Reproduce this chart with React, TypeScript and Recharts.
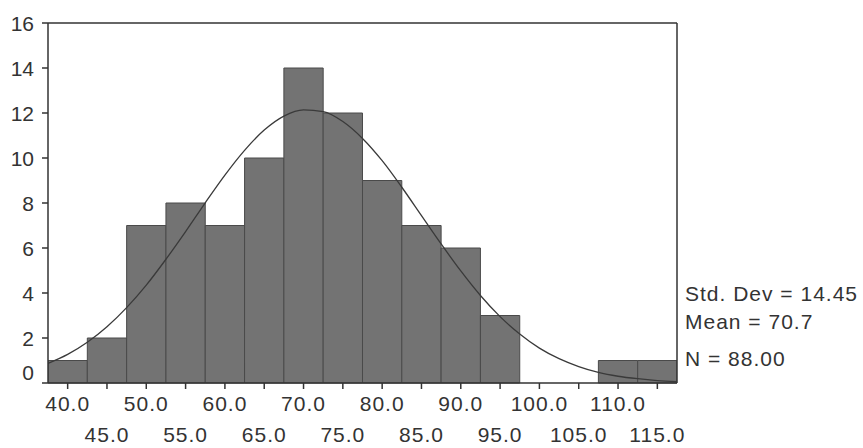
import { ComposedChart, Bar, Line, XAxis, YAxis, ReferenceLine } from "recharts"

// histogram bins (centre of each 5-unit class) and their counts
const binCenters = [40, 45, 50, 55, 60, 65, 70, 75, 80, 85, 90, 95, 100, 105, 110, 115]
const binCounts = [1, 2, 7, 8, 7, 10, 14, 12, 9, 7, 6, 3, 0, 0, 1, 1]

// fitted normal curve, every 2.5 units
const curveX = [
  37.5, 40, 42.5, 45, 47.5, 50, 52.5, 55, 57.5, 60, 62.5, 65, 67.5, 70, 72.5, 75, 77.5,
  80, 82.5, 85, 87.5, 90, 92.5, 95, 97.5, 100, 102.5, 105, 107.5, 110, 112.5, 115, 117.5,
]
const curveY = [
  0.87, 1.27, 1.81, 2.5, 3.35, 4.35, 5.5, 6.73, 8.01, 9.24, 10.34, 11.24, 11.86, 12.14, 12.06, 11.62, 10.87,
  9.88, 8.7, 7.44, 6.18, 4.98, 3.89, 2.95, 2.18, 1.55, 1.08, 0.73, 0.47, 0.3, 0.19, 0.11, 0.06,
]

const xTicks = [40, 45, 50, 55, 60, 65, 70, 75, 80, 85, 90, 95, 100, 105, 110, 115]
const yTicks = [0, 2, 4, 6, 8, 10, 12, 14, 16]
const statLines = ["Std. Dev = 14.45", "Mean = 70.7", "N = 88.00"]

const bins = binCenters.map((x, i) => ({ x, count: binCounts[i] }))
const curve = curveX.map((x, i) => ({ x, fit: curveY[i] }))

const font = "'Liberation Sans', Arial, sans-serif"
const ink = "#333"

// two staggered rows of labels, like the SPSS output
// eslint-disable-next-line @typescript-eslint/no-explicit-any
function XTick({ x, y, payload, index }: any) {
  const lower = index % 2 === 1
  return (
    <text x={x} y={y} dy={lower ? 51 : 20} textAnchor="middle" fontSize={21} letterSpacing={1} fill={ink} fontFamily={font}>
      {Number(payload.value).toFixed(1)}
    </text>
  )
}

// eslint-disable-next-line @typescript-eslint/no-explicit-any
function YTick({ x, y, payload }: any) {
  return (
    <text x={x} y={y} dy={payload.value === 0 ? -3 : 7.5} textAnchor="end" fontSize={21} fill={ink} fontFamily={font}>
      {payload.value}
    </text>
  )
}

export default function App() {
  return (
    <div style={{ position: "absolute", left: 0, top: 0, width: 863, height: 448, background: "#fff" }}>
      <ComposedChart
        width={863}
        height={448}
        data={bins}
        margin={{ top: 23, right: 186, bottom: 0, left: 0 }}
        barCategoryGap={0}
        barGap={0}
      >
        <XAxis
          dataKey="x"
          type="number"
          domain={[37.5, 117.5]}
          ticks={xTicks}
          interval={0}
          allowDataOverflow
          height={65}
          tickSize={6}
          stroke={ink}
          strokeWidth={1.5}
          tick={<XTick />}
        />
        {/* separate hidden axis for the fitted curve so its 2.5 step doesn't shrink the bars */}
        <XAxis xAxisId="fit" dataKey="x" type="number" domain={[37.5, 117.5]} allowDataOverflow hide />
        <YAxis
          domain={[0, 16]}
          ticks={yTicks}
          interval={0}
          width={48}
          tickSize={6}
          tickMargin={8}
          stroke={ink}
          strokeWidth={1.5}
          tick={<YTick />}
        />
        <ReferenceLine y={16} stroke={ink} strokeWidth={1.5} />
        <ReferenceLine x={117.5} stroke={ink} strokeWidth={1.5} />
        <Bar dataKey="count" barSize={39.3} fill="#737373" stroke="#4a4a4a" strokeWidth={1} isAnimationActive={false} />
        <Line
          xAxisId="fit"
          data={curve}
          dataKey="fit"
          type="monotone"
          stroke="#3a3a3a"
          strokeWidth={1.3}
          dot={false}
          activeDot={false}
          isAnimationActive={false}
        />
      </ComposedChart>
      <div style={{ position: "absolute", left: 685, top: 0, fontFamily: font, fontSize: 21, letterSpacing: 1, color: ink }}>
        {statLines.map((t, i) => (
          <div key={t} style={{ position: "absolute", top: [282, 310, 347][i], whiteSpace: "nowrap", lineHeight: "24px" }}>
            {t}
          </div>
        ))}
      </div>
    </div>
  )
}
